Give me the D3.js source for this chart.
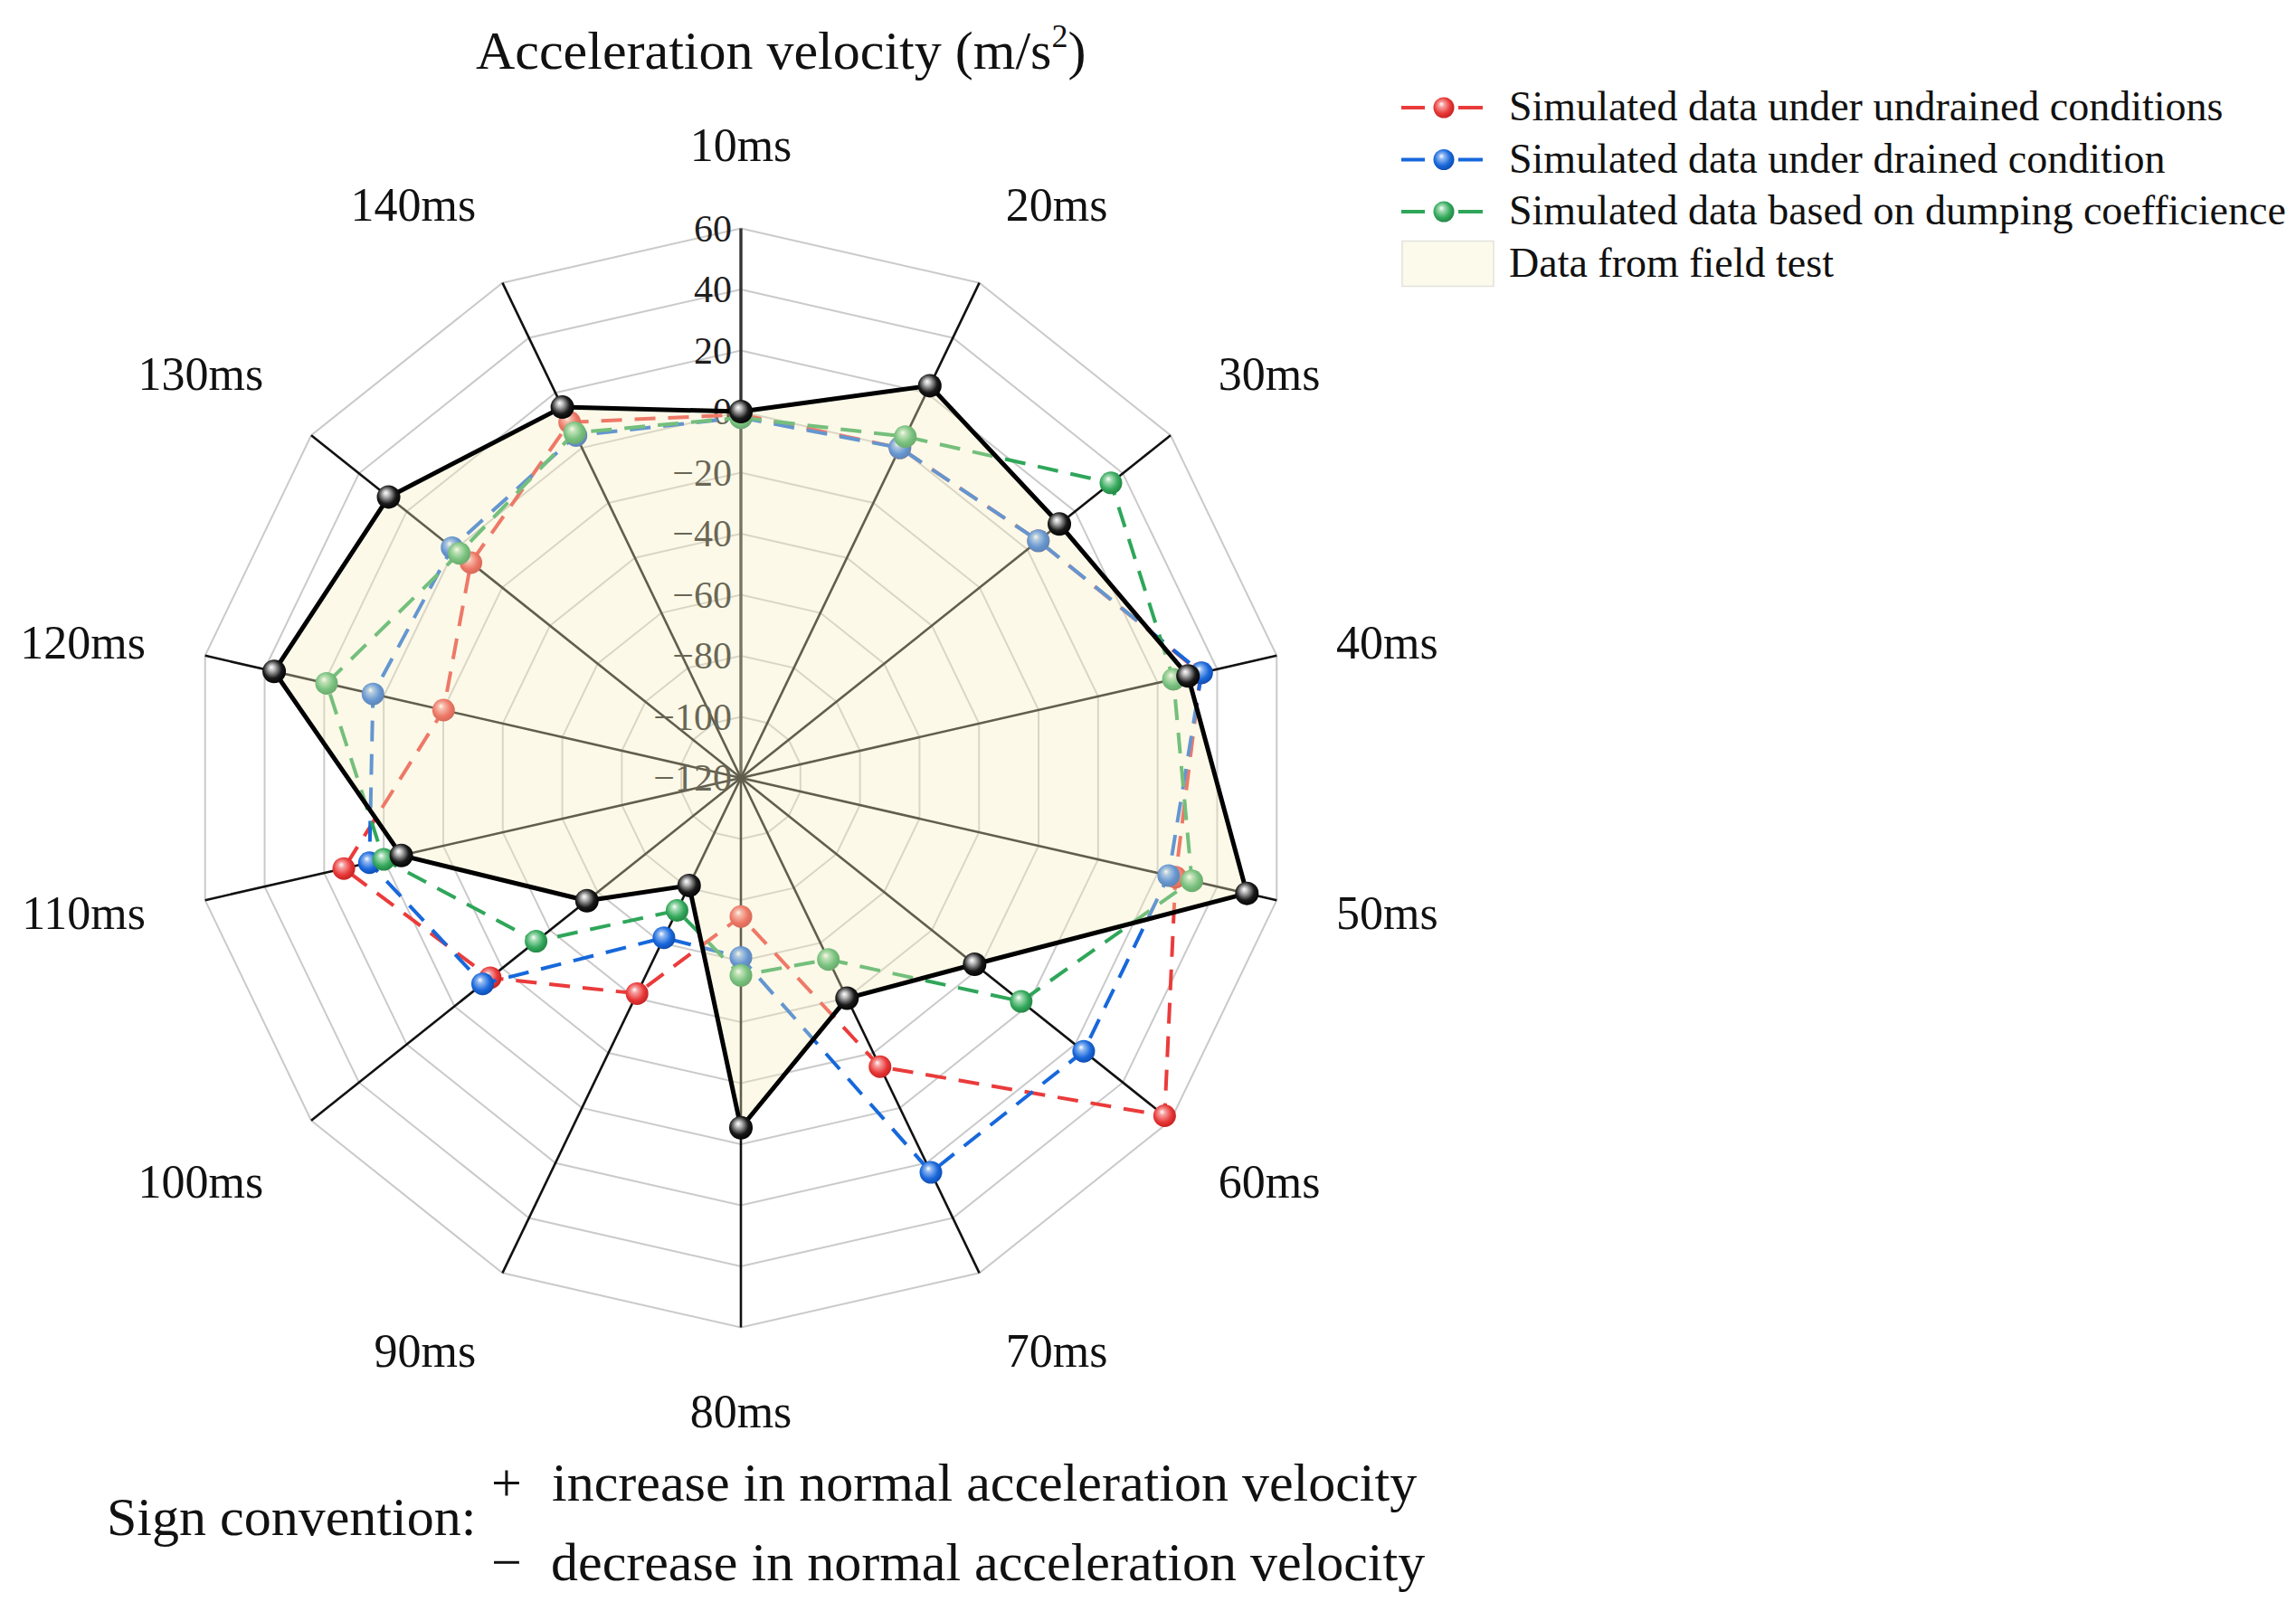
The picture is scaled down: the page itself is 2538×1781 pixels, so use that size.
<!DOCTYPE html>
<html>
<head>
<meta charset="utf-8">
<script src="https://cdn.jsdelivr.net/npm/d3@7"></script>
<style>
  html, body { margin: 0; padding: 0; background: #fff; }
  svg { display: block; font-family: "Liberation Serif", "Times New Roman", serif; }
</style>
</head>
<body>
<svg id="chart" width="2538" height="1781"></svg>
<script>
// ---------------- data ----------------
const categories = ["10ms","20ms","30ms","40ms","50ms","60ms","70ms","80ms","90ms","100ms","110ms","120ms","130ms","140ms"];
const radialTicks = [-120, -100, -80, -60, -40, -20, 0, 20, 40, 60];
const fieldTest  = [0, 22.6, 13.4, 30.2, 50, -22.1, -39.9, -5.4, -80.9, -55.5, -5.9, 36.8, 27.6, 14.8];
const undrained  = [-1, 0, 4.6, 34.5, 26, 57.5, -15, -74.6, -41.6, -15, 13.4, -20.1, -6.9, 9.3];
const drained    = [-2, 0, 4.6, 34.8, 23.7, 23.6, 23.4, -61.2, -61.9, -11.8, 4.8, 3.6, 1, 4.5];
const damping    = [-2, 4.1, 35, 25.3, 31.5, -2.6, -54, -55.3, -71.8, -34.2, 0, 19.2, -2, 5.5];
const seriesNames = ["Simulated data under undrained conditions",
                     "Simulated data under drained condition",
                     "Simulated data based on dumping coefficience"];
const fieldName = "Data from field test";

// ---------------- layout ----------------
const cx = 819, cy = 860, R = 607.5;
const svg = d3.select("#chart");
svg.append("rect").attr("width", 2538).attr("height", 1781).attr("fill", "#fff");

const rScale = d3.scaleLinear().domain([-120, 60]).range([0, R]);
const n = categories.length;
const angle = i => i * 2 * Math.PI / n;
const px = (i, v) => cx + rScale(v) * Math.sin(angle(i));
const py = (i, v) => cy - rScale(v) * Math.cos(angle(i));

// gradients for glossy markers
const defs = svg.append("defs");
function sphere(id, light, mid, dark) {
  const g = defs.append("radialGradient").attr("id", id)
    .attr("cx", "45%").attr("cy", "45%").attr("r", "60%")
    .attr("fx", "38%").attr("fy", "32%");
  g.append("stop").attr("offset", "0%").attr("stop-color", "#ffffff");
  g.append("stop").attr("offset", "22%").attr("stop-color", light);
  g.append("stop").attr("offset", "65%").attr("stop-color", mid);
  g.append("stop").attr("offset", "100%").attr("stop-color", dark);
}
sphere("s-red", "#f7a0a0", "#e83838", "#c01e1e");
sphere("s-blue", "#8fb8f0", "#1a68dc", "#0c48a8");
sphere("s-green", "#a5dcb5", "#34a95c", "#1f7f40");
sphere("s-black", "#bdbdbd", "#1a1a1a", "#000000");

const series = [
  { name: seriesNames[0], values: undrained, color: "#ea3b3b", grad: "s-red" },
  { name: seriesNames[1], values: drained,   color: "#1668db", grad: "s-blue" },
  { name: seriesNames[2], values: damping,   color: "#2fa65a", grad: "s-green" }
];

// ---------------- grid ----------------
const gridG = svg.append("g");
radialTicks.filter(t => t > -120).forEach(t => {
  gridG.append("path")
    .attr("d", d3.line()(d3.range(n).map(i => [px(i, t), py(i, t)])) + "Z")
    .attr("fill", "none").attr("stroke", "#cacaca").attr("stroke-width", 2);
});
// radial axes
d3.range(n).forEach(i => {
  gridG.append("line")
    .attr("x1", cx).attr("y1", cy)
    .attr("x2", px(i, 60)).attr("y2", py(i, 60))
    .attr("stroke", i === 0 ? "#333" : "#111")
    .attr("stroke-width", i === 0 ? 3.4 : 2.6);
});
// radial tick labels
const fmt = v => (v < 0 ? "\u2212" + Math.abs(v) : String(v));
gridG.selectAll("text.tick").data(radialTicks).join("text")
  .attr("class", "tick")
  .attr("x", cx - 10).attr("y", d => cy - rScale(d))
  .attr("text-anchor", "end").attr("dominant-baseline", "central")
  .attr("font-size", 42).attr("fill", "#1e1e1e")
  .text(fmt);

// category labels
const rho = 675;
const labelY = i => {
  const s = Math.sin(angle(i)), c = Math.cos(angle(i));
  if (Math.abs(s) > 0.95) return cy - (R * c + 14 * Math.sign(c));
  const ry = 700 + 20 * Math.pow(Math.sin(2 * angle(i)), 8);
  return cy - ry * c;
};
svg.append("g").selectAll("text").data(categories).join("text")
  .attr("x", (d, i) => cx + rho * Math.sin(angle(i)))
  .attr("y", (d, i) => labelY(i))
  .attr("text-anchor", (d, i) => {
    const s = Math.sin(angle(i));
    return Math.abs(s) < 0.05 ? "middle" : (s > 0 ? "start" : "end");
  })
  .attr("dominant-baseline", "central")
  .attr("font-size", 52).attr("fill", "#111")
  .text(d => d);

// ---------------- simulated series ----------------
const radial = d3.lineRadial()
  .angle((d, i) => angle(i))
  .radius(d => rScale(d))
  .curve(d3.curveLinearClosed);

const plotG = svg.append("g");
series.forEach(s => {
  const g = plotG.append("g");
  g.append("path")
    .attr("transform", `translate(${cx},${cy})`)
    .attr("d", radial(s.values))
    .attr("fill", "none").attr("stroke", s.color)
    .attr("stroke-width", 4).attr("stroke-dasharray", "23,14");
  g.selectAll("circle").data(s.values).join("circle")
    .attr("cx", (d, i) => px(i, d)).attr("cy", (d, i) => py(i, d))
    .attr("r", 12.5).attr("fill", `url(#${s.grad})`);
});

// ---------------- field test (area) ----------------
const fieldG = svg.append("g");
fieldG.append("path")
  .attr("transform", `translate(${cx},${cy})`)
  .attr("d", radial(fieldTest))
  .attr("fill", "rgb(246,239,190)").attr("fill-opacity", 0.35)
  .attr("stroke", "none");
fieldG.append("path")
  .attr("transform", `translate(${cx},${cy})`)
  .attr("d", radial(fieldTest))
  .attr("fill", "none").attr("stroke", "#000").attr("stroke-width", 5)
  .attr("stroke-linejoin", "round");
fieldG.selectAll("circle").data(fieldTest).join("circle")
  .attr("cx", (d, i) => px(i, d)).attr("cy", (d, i) => py(i, d))
  .attr("r", 13).attr("fill", "url(#s-black)");

// ---------------- title ----------------
const title = svg.append("text")
  .attr("x", 526).attr("y", 76)
  .attr("font-size", 60).attr("fill", "#111");
title.append("tspan").text("Acceleration velocity (m/s");
title.append("tspan").attr("font-size", 36).attr("dy", -24).text("2");
title.append("tspan").attr("dy", 24).text(")");

// ---------------- legend ----------------
const legG = svg.append("g");
const legY0 = 119, legDy = 57.5;
series.forEach((s, k) => {
  const y = legY0 + k * legDy;
  legG.append("line").attr("x1", 1549).attr("x2", 1575).attr("y1", y).attr("y2", y)
    .attr("stroke", s.color).attr("stroke-width", 4);
  legG.append("line").attr("x1", 1612).attr("x2", 1639).attr("y1", y).attr("y2", y)
    .attr("stroke", s.color).attr("stroke-width", 4);
  legG.append("circle").attr("cx", 1596).attr("cy", y).attr("r", 11.5)
    .attr("fill", `url(#${s.grad})`);
  legG.append("text").attr("x", 1668).attr("y", y + 14)
    .attr("font-size", 46).attr("fill", "#111").text(s.name);
});
{
  const y = legY0 + 3 * legDy;
  legG.append("rect").attr("x", 1550).attr("y", y - 25).attr("width", 101).attr("height", 50)
    .attr("fill", "rgb(252,250,235)").attr("stroke", "#e2e2dc").attr("stroke-width", 1.5);
  legG.append("text").attr("x", 1668).attr("y", y + 14)
    .attr("font-size", 46).attr("fill", "#111").text(fieldName);
}

// ---------------- sign convention ----------------
const sc = svg.append("g").attr("font-size", 60).attr("fill", "#111");
sc.append("text").attr("x", 118).attr("y", 1697).text("Sign convention:");
sc.append("text").attr("x", 543).attr("y", 1659).text("+");
sc.append("text").attr("x", 610).attr("y", 1659).text("increase in normal acceleration velocity");
sc.append("text").attr("x", 543).attr("y", 1747).text("\u2212");
sc.append("text").attr("x", 609).attr("y", 1747).text("decrease in normal acceleration velocity");
</script>
</body>
</html>
